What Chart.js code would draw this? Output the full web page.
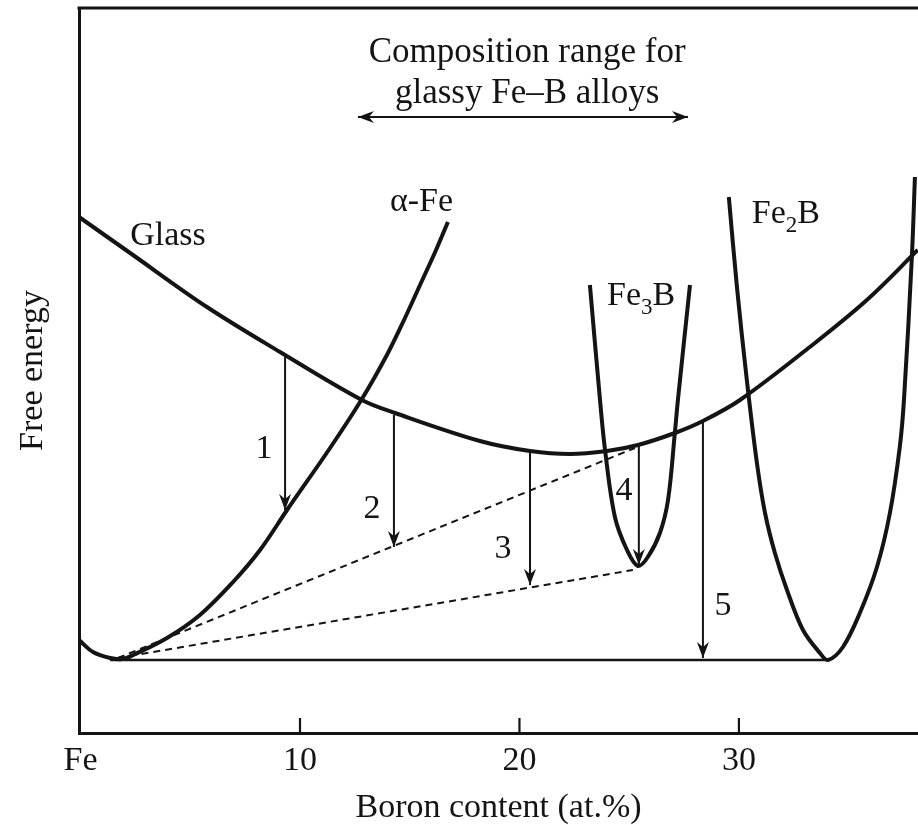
<!DOCTYPE html>
<html>
<head>
<meta charset="utf-8">
<title>Free energy of Fe-B phases</title>
<script src="https://cdn.jsdelivr.net/npm/chart.js@4.4.1/dist/chart.umd.min.js"></script>
<style>
  body { margin: 0; background: #fff; }
  #wrap { width: 918px; height: 825px; }
</style>
</head>
<body>
<div id="wrap"><canvas id="feChart" width="918" height="825"></canvas></div>
<script>
// x axis: boron content (at.%), y axis: free energy (arbitrary units)
const xTicks = [0, 10, 20, 30];
const xTickLabels = ['Fe', '10', '20', '30'];

const glassX = [-0.07, 2.26, 5.76, 9.09, 12.82, 14.33, 18.20, 20.48, 22.30, 23.99, 25.40, 27.08, 28.36, 30.05, 33.23, 35.83, 38.15];
const glassY = [516, 480, 426, 381, 333, 320, 292, 282, 279, 282, 288, 300, 312, 333, 386, 433, 483];

const alphaFeX = [-0.07, 0.57, 1.35, 1.9, 2.4, 3.94, 5.44, 6.95, 8.18, 9.41, 11.37, 12.82, 13.96, 14.74, 15.47, 16.20, 16.74];
const alphaFeY = [93, 81, 75, 74, 78, 95, 118, 151, 183, 223, 285, 334, 378, 413, 448, 483, 511];

const fe3bX = [23.21, 23.67, 23.90, 24.35, 24.90, 25.40, 25.85, 26.40, 26.77, 27.08, 27.22, 27.77];
const fe3bY = [448, 333, 283, 216, 183, 167, 176, 200, 233, 300, 333, 448];

const fe2bX = [29.54, 29.91, 30.36, 30.82, 31.19, 31.64, 32.19, 32.92, 33.69, 34.06, 34.74, 35.51, 36.29, 36.88, 37.33, 37.52, 37.88, 38.02];
const fe2bY = [536, 446, 353, 270, 220, 180, 143, 103, 80, 73, 86, 120, 166, 220, 286, 333, 476, 556];

// common tangent alpha-Fe / Fe2B and metastable tie lines
const tangentX = [1.35, 34.06];
const tangentY = [73, 73];
const tieUpperX = [1.7, 25.26];
const tieUpperY = [75, 285];
const tieLowerX = [1.7, 25.17];
const tieLowerY = [75, 163];

// crystallisation paths 1-5 (from glass down to product)
const pathX = [9.32, 14.28, 20.48, 25.44, 28.36];
const pathFrom = [376, 318, 280, 288, 311];
const pathTo = [223, 186, 148, 168, 75];
const pathNames = ['1', '2', '3', '4', '5'];

// glass forming range
const rangeX = [12.64, 27.68];
const rangeY = [616, 616];

const ink = '#141414';
const serif = '"Liberation Serif", "Times New Roman", serif';
Chart.defaults.font.family = serif;
Chart.defaults.color = ink;

function pts(xs, ys) {
  return xs.map((x, i) => ({ x: x, y: ys[i] }));
}

function curve(xs, ys) {
  return {
    data: pts(xs, ys),
    showLine: true,
    borderColor: ink,
    borderWidth: 4,
    pointRadius: 0,
    tension: 0.35,
    borderCapStyle: 'butt',
    borderJoinStyle: 'round'
  };
}

function straight(xs, ys, width, dash) {
  return {
    data: pts(xs, ys),
    showLine: true,
    borderColor: ink,
    borderWidth: width,
    borderDash: dash || [],
    pointRadius: 0
  };
}

const datasets = [
  curve(glassX, glassY),
  curve(alphaFeX, alphaFeY),
  curve(fe3bX, fe3bY),
  curve(fe2bX, fe2bY),
  straight(tangentX, tangentY, 2.5),
  straight(tieUpperX, tieUpperY, 2, [7, 5]),
  straight(tieLowerX, tieLowerY, 2, [7, 5]),
  straight(rangeX, rangeY, 2)
];
pathX.forEach((x, i) => {
  datasets.push(straight([x, x], [pathFrom[i], pathTo[i]], 2));
});

function arrowHead(ctx, x, y, angle) {
  ctx.save();
  ctx.translate(x, y);
  ctx.rotate(angle);
  ctx.beginPath();
  ctx.moveTo(0, 0);
  ctx.lineTo(-6, -16);
  ctx.lineTo(0, -11);
  ctx.lineTo(6, -16);
  ctx.closePath();
  ctx.fill();
  ctx.restore();
}

// labels are anchored in data units
const annotations = {
  id: 'annotations',
  afterDatasetsDraw(chart) {
    const ctx = chart.ctx;
    const xs = chart.scales.x;
    const ys = chart.scales.y;
    const area = chart.chartArea;
    const X = v => xs.getPixelForValue(v);
    const Y = v => ys.getPixelForValue(v);

    ctx.save();
    ctx.strokeStyle = ink;
    ctx.fillStyle = ink;

    // top frame line
    ctx.lineWidth = 3;
    ctx.beginPath();
    ctx.moveTo(area.left - 1.5, area.top);
    ctx.lineTo(area.right, area.top);
    ctx.stroke();

    // inward tick marks
    ctx.lineWidth = 2.2;
    xTicks.forEach(v => {
      if (v === 0) return;
      ctx.beginPath();
      ctx.moveTo(X(v), area.bottom);
      ctx.lineTo(X(v), area.bottom - 15);
      ctx.stroke();
    });

    // arrow heads
    pathX.forEach((x, i) => arrowHead(ctx, X(x), Y(pathTo[i]), 0));
    arrowHead(ctx, X(rangeX[0]), Y(rangeY[0]), Math.PI / 2);
    arrowHead(ctx, X(rangeX[1]), Y(rangeY[1]), -Math.PI / 2);

    // texts
    const big = '34px ' + serif;
    const small = '23px ' + serif;
    ctx.textBaseline = 'alphabetic';
    ctx.font = '35px ' + serif;

    ctx.textAlign = 'center';
    ctx.fillText('Composition range for', X(20.35), Y(671));
    ctx.fillText('glassy Fe\u2013B alloys', X(20.35), Y(630));

    ctx.font = big;
    const numX = [8.36, 13.28, 19.25, 24.76, 29.27];
    const numY = [275, 215, 175, 233, 118];
    pathNames.forEach((n, i) => ctx.fillText(n, X(numX[i]), Y(numY[i])));

    ctx.textAlign = 'left';
    ctx.fillText('Glass', X(2.26), Y(488));
    ctx.fillText('\u03b1-Fe', X(14.1), Y(522));

    function formula(sub, x, y) {
      let px = X(x);
      const py = Y(y);
      ctx.font = big;
      ctx.fillText('Fe', px, py);
      px += ctx.measureText('Fe').width;
      ctx.font = small;
      ctx.fillText(sub, px, py + 9);
      px += ctx.measureText(sub).width;
      ctx.font = big;
      ctx.fillText('B', px, py);
    }
    formula('3', 23.99, 428);
    formula('2', 30.59, 510);

    ctx.restore();
  }
};

new Chart(document.getElementById('feChart'), {
  type: 'scatter',
  data: { datasets: datasets },
  options: {
    responsive: false,
    animation: false,
    layout: { padding: { top: 8, left: 0, right: 0, bottom: 0 } },
    plugins: {
      legend: { display: false },
      tooltip: { enabled: false }
    },
    scales: {
      x: {
        type: 'linear',
        min: -0.07,
        max: 38.16,
        afterBuildTicks: axis => { axis.ticks = xTicks.map(v => ({ value: v })); },
        afterFit: axis => { axis.height = 92; },
        ticks: {
          padding: 11,
          maxRotation: 0,
          font: { size: 34, lineHeight: 1 },
          callback: (v) => xTickLabels[xTicks.indexOf(v)]
        },
        grid: { display: false, drawTicks: false },
        border: { display: true, color: ink, width: 3 },
        title: {
          display: true,
          text: 'Boron content (at.%)',
          font: { size: 34, lineHeight: 1 },
          padding: { top: 0, bottom: 0 }
        }
      },
      y: {
        type: 'linear',
        min: 0,
        max: 725,
        afterFit: axis => { axis.width = 79; },
        ticks: { display: false },
        grid: { display: false, drawTicks: false },
        border: { display: true, color: ink, width: 3 },
        title: {
          display: true,
          text: 'Free energy',
          font: { size: 34, lineHeight: 1 },
          padding: { top: 16, bottom: 0 }
        }
      }
    }
  },
  plugins: [annotations]
});
</script>
</body>
</html>
